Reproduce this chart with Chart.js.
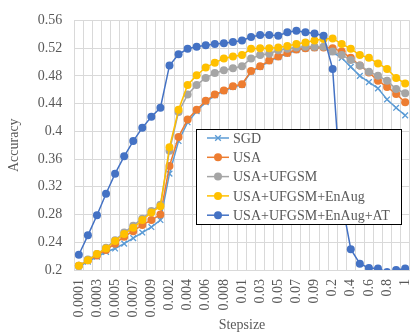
<!DOCTYPE html>
<html lang="en">
<head>
    <meta charset="UTF-8">
    <title>Accuracy vs Stepsize</title>
    <script src="https://cdn.jsdelivr.net/npm/chart.js"></script>
    <style>
        body { margin: 0; padding: 0; background: #fff; }
        .wrap { width: 415px; height: 335px; }
    </style>
</head>
<body>
    <div class="wrap">
        <canvas id="accChart" width="415" height="335"></canvas>
    </div>

    <script>
        const stepsizes = [
            '0.0001', '0.0002', '0.0003', '0.0004', '0.0005', '0.0006', '0.0007', '0.0008', '0.0009',
            '0.001', '0.002', '0.003', '0.004', '0.005', '0.006', '0.007', '0.008', '0.009',
            '0.01', '0.02', '0.03', '0.04', '0.05', '0.06', '0.07', '0.08', '0.09',
            '0.1', '0.2', '0.3', '0.4', '0.5', '0.6', '0.7', '0.8', '0.9', '1'
        ];

        const sgd = [0.205, 0.212, 0.219, 0.226, 0.231, 0.238, 0.246, 0.254, 0.262, 0.272,
            0.339, 0.386, 0.413, 0.429, 0.442, 0.452, 0.458, 0.464, 0.467, 0.486,
            0.493, 0.501, 0.507, 0.512, 0.517, 0.519, 0.520, 0.521, 0.514, 0.506,
            0.493, 0.480, 0.471, 0.462, 0.446, 0.434, 0.423];
        const usa = [0.206, 0.214, 0.221, 0.229, 0.238, 0.248, 0.256, 0.265, 0.272, 0.280,
            0.350, 0.392, 0.417, 0.431, 0.444, 0.453, 0.459, 0.465, 0.468, 0.487,
            0.494, 0.502, 0.508, 0.513, 0.518, 0.520, 0.521, 0.521, 0.520, 0.515,
            0.506, 0.495, 0.485, 0.473, 0.464, 0.454, 0.442];
        const usaUfgsm = [0.206, 0.215, 0.223, 0.232, 0.243, 0.254, 0.264, 0.274, 0.285, 0.294,
            0.372, 0.428, 0.453, 0.467, 0.477, 0.484, 0.488, 0.491, 0.494, 0.505,
            0.510, 0.512, 0.517, 0.519, 0.521, 0.522, 0.522, 0.522, 0.515, 0.510,
            0.503, 0.495, 0.486, 0.480, 0.473, 0.461, 0.455];
        const usaUfgsmEnAug = [0.206, 0.214, 0.223, 0.231, 0.242, 0.252, 0.261, 0.272, 0.283, 0.292,
            0.377, 0.431, 0.467, 0.481, 0.492, 0.499, 0.505, 0.508, 0.510, 0.519,
            0.520, 0.520, 0.521, 0.523, 0.526, 0.528, 0.531, 0.533, 0.534, 0.526,
            0.519, 0.510, 0.506, 0.498, 0.490, 0.477, 0.469];
        const usaUfgsmEnAugAt = [0.222, 0.250, 0.279, 0.310, 0.339, 0.364, 0.386, 0.405, 0.421, 0.434,
            0.495, 0.511, 0.519, 0.522, 0.524, 0.526, 0.527, 0.529, 0.531, 0.536,
            0.539, 0.539, 0.538, 0.543, 0.545, 0.543, 0.541, 0.538, 0.490, 0.300,
            0.230, 0.209, 0.203, 0.202, 0.197, 0.200, 0.202];

        const yTicks = [0.2, 0.24, 0.28, 0.32, 0.36, 0.4, 0.44, 0.48, 0.52, 0.56];

        const fontFamily = '"Liberation Serif", "Times New Roman", serif';
        const textColor = '#595959';
        const gridColor = '#d9d9d9';

        function series(label, data, color, style, order) {
            return {
                label: label,
                data: data,
                borderColor: color,
                backgroundColor: color,
                borderWidth: 1.5,
                pointStyle: style,
                pointRadius: 4,
                pointBorderWidth: style === 'crossRot' ? 1.3 : 0,
                pointHoverRadius: 4,
                tension: 0,
                order: order
            };
        }

        // legend box drawn on top of the plot, like the original
        const boxLegend = {
            id: 'boxLegend',
            afterDatasetsDraw(chart) {
                const ctx = chart.ctx;
                const x0 = 196.5, y0 = 129.5, w = 205, h = 95;
                ctx.save();
                ctx.fillStyle = '#fff';
                ctx.fillRect(x0, y0, w, h);
                ctx.strokeStyle = '#000';
                ctx.lineWidth = 1;
                ctx.strokeRect(x0, y0, w, h);
                ctx.font = '14px ' + fontFamily;
                ctx.textBaseline = 'middle';
                chart.data.datasets.forEach((ds, i) => {
                    const y = 138 + i * 19.3;
                    ctx.strokeStyle = ds.borderColor;
                    ctx.lineWidth = 1.5;
                    ctx.beginPath();
                    ctx.moveTo(207, y);
                    ctx.lineTo(229, y);
                    ctx.stroke();
                    ctx.fillStyle = ds.backgroundColor;
                    ctx.lineWidth = ds.pointBorderWidth || 1;
                    Chart.helpers.drawPoint(ctx, {
                        pointStyle: ds.pointStyle,
                        radius: 4,
                        rotation: 0,
                        borderWidth: ds.pointBorderWidth
                    }, 218, y);
                    ctx.fillStyle = textColor;
                    ctx.fillText(ds.label, 233, y + 1);
                });
                ctx.restore();
            }
        };

        const ctx = document.getElementById('accChart').getContext('2d');
        const chart = new Chart(ctx, {
            type: 'line',
            data: {
                labels: stepsizes,
                datasets: [
                    series('SGD', sgd, '#5b9bd5', 'crossRot', 4),
                    series('USA', usa, '#ed7d31', 'circle', 3),
                    series('USA+UFGSM', usaUfgsm, '#a5a5a5', 'circle', 2),
                    series('USA+UFGSM+EnAug', usaUfgsmEnAug, '#ffc000', 'circle', 1),
                    series('USA+UFGSM+EnAug+AT', usaUfgsmEnAugAt, '#4472c4', 'circle', 0)
                ]
            },
            options: {
                responsive: false,
                animation: false,
                layout: { padding: { top: 16, right: 0, bottom: 0, left: 0 } },
                plugins: {
                    legend: { display: false },
                    tooltip: { enabled: false }
                },
                scales: {
                    x: {
                        offset: true,
                        grid: { color: gridColor, offset: true, drawTicks: false },
                        border: { color: gridColor },
                        ticks: {
                            autoSkip: false,
                            minRotation: 90,
                            maxRotation: 90,
                            padding: 9,
                            color: textColor,
                            font: { family: fontFamily, size: 14 },
                            callback: function (value, index) {
                                return index % 2 === 0 ? stepsizes[index] : '';
                            }
                        },
                        title: {
                            display: true,
                            text: 'Stepsize',
                            color: textColor,
                            font: { family: fontFamily, size: 14 },
                            padding: { top: 0, bottom: 1 }
                        },
                        afterFit: function (scale) {
                            scale.paddingLeft = 0;
                            scale.paddingRight = 0;
                            scale.height = 65;
                        }
                    },
                    y: {
                        min: yTicks[0],
                        max: yTicks[yTicks.length - 1],
                        grid: { color: gridColor, drawTicks: false },
                        border: { display: false },
                        afterBuildTicks: function (scale) {
                            scale.ticks = yTicks.map(v => ({ value: v }));
                        },
                        ticks: {
                            padding: 12,
                            color: textColor,
                            font: { family: fontFamily, size: 14 },
                            callback: function (value) {
                                return String(Number(value.toFixed(2)));
                            }
                        },
                        title: {
                            display: true,
                            text: 'Accuracy',
                            color: textColor,
                            font: { family: fontFamily, size: 14 },
                            padding: { top: 6, bottom: 3 }
                        }
                    }
                }
            },
            plugins: [boxLegend]
        });
    </script>
</body>
</html>
